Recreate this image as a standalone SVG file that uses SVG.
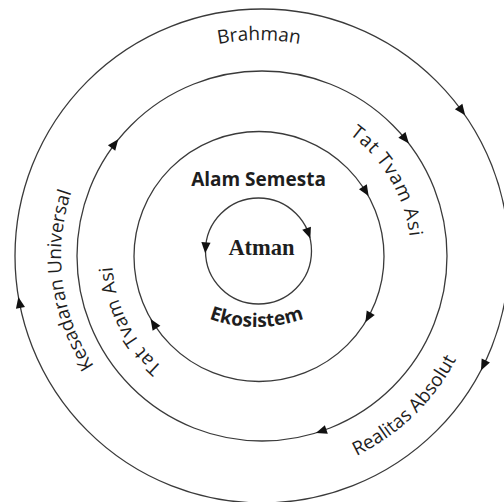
<svg xmlns="http://www.w3.org/2000/svg" xmlns:xlink="http://www.w3.org/1999/xlink" width="504" height="502" viewBox="0 0 504 502">
<style>
.ring{fill:none;stroke:#3a3a3a;stroke-width:1.3}
.lbl{font-family:"Open Sans","Liberation Sans",sans-serif;fill:#1e1e1e;font-size:19px}
.bold{font-weight:bold}
.serif{font-family:"Liberation Serif","Times New Roman",serif;font-weight:bold;fill:#1e1e1e}
.ah{fill:#111}
</style>
<defs>
<polygon id="arr" points="6,0 -5,-4.6 -5,4.6"/>
<path id="pBrahman" d="M46.3,218.5 A216,216 0 0 1 471.7,218.5"/>
<path id="pKes" d="M251,454.8 A199,199 0 0 1 200.5,66.1"/>
<path id="pTatR" d="M207.1,114.6 A151,151 0 0 1 358.1,370.8"/>
<path id="pTatL" d="M301.8,398 A148,148 0 0 1 172.2,136.9"/>
<path id="pReal" d="M129.5,435.6 A222,222 0 0 0 444,131.9"/>
<path id="pEko" d="M116.5,187 A140,140 0 0 0 396.5,187"/>
</defs>
<rect width="504" height="502" fill="#fff"/>

<g id="brahman">
<circle class="ring" cx="262" cy="256" r="247"/>
<text class="lbl"><textPath xlink:href="#pBrahman" href="#pBrahman" startOffset="50%" text-anchor="middle">Brahman</textPath></text>
</g>

<g id="tat-tvam-asi-ring">
<circle class="ring" cx="262" cy="256" r="185"/>
<text class="lbl" font-size="20"><textPath xlink:href="#pKes" href="#pKes" startOffset="50%" text-anchor="middle">Kesadaran Universal</textPath></text>
<text class="lbl"><textPath xlink:href="#pReal" href="#pReal" startOffset="50%" text-anchor="middle">Realitas Absolut</textPath></text>
</g>

<g id="alam-semesta">
<circle class="ring" cx="259" cy="256.5" r="125"/>
<text class="lbl bold" x="258.5" y="186" text-anchor="middle" font-size="20.5">Alam Semesta</text>
<text class="lbl"><textPath xlink:href="#pTatR" href="#pTatR" startOffset="50%" text-anchor="middle" textLength="122" lengthAdjust="spacing">Tat Tvam Asi</textPath></text>
<text class="lbl"><textPath xlink:href="#pTatL" href="#pTatL" startOffset="50%" text-anchor="middle" textLength="115" lengthAdjust="spacing">Tat Tvam Asi</textPath></text>
</g>

<g id="atman">
<circle class="ring" cx="258.5" cy="251" r="53"/>
<text class="serif" x="261.5" y="255" text-anchor="middle" font-size="22.5">Atman</text>
<text class="lbl bold" font-size="16"><textPath xlink:href="#pEko" href="#pEko" startOffset="50%" text-anchor="middle">Ekosistem</textPath></text>
</g>

<g id="connectors" class="ah">
<use href="#arr" xlink:href="#arr" transform="translate(461.6,110.5) rotate(53.9)"/>
<use href="#arr" xlink:href="#arr" transform="translate(483.6,365) rotate(116.2)"/>
<use href="#arr" xlink:href="#arr" transform="translate(19.5,303) rotate(259)"/>
<use href="#arr" xlink:href="#arr" transform="translate(405.1,138.8) rotate(50.7)"/>
<use href="#arr" xlink:href="#arr" transform="translate(321.6,431.1) rotate(161.2)"/>
<use href="#arr" xlink:href="#arr" transform="translate(114.6,144.1) rotate(-52.8)"/>
<use href="#arr" xlink:href="#arr" transform="translate(365.5,191) rotate(58.4)"/>
<use href="#arr" xlink:href="#arr" transform="translate(368.3,317.1) rotate(119)"/>
<use href="#arr" xlink:href="#arr" transform="translate(153.8,324) rotate(237.3)"/>
<use href="#arr" xlink:href="#arr" transform="translate(308.3,232.9) rotate(70)"/>
<use href="#arr" xlink:href="#arr" transform="translate(205.6,247.3) rotate(94)"/>
</g>
</svg>
